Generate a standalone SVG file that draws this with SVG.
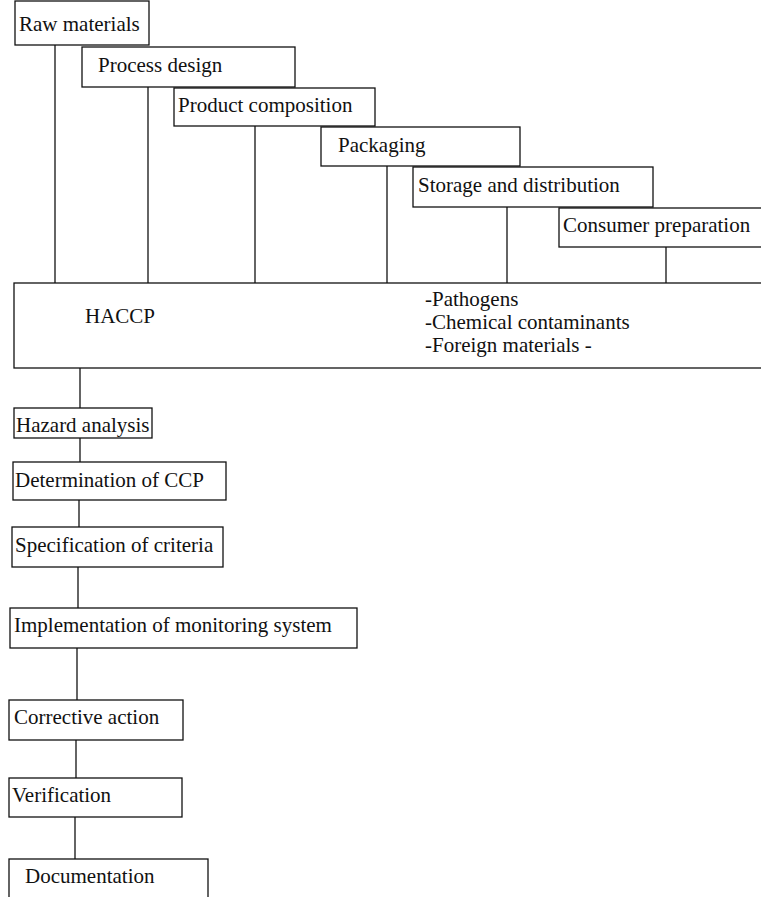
<svg xmlns="http://www.w3.org/2000/svg" width="761" height="897" viewBox="0 0 761 897">
<style>
  .box { fill: #fff; stroke: #111; stroke-width: 1.3; }
  .t { font-size: 21px; fill: #111; }
  .c { stroke: #111; stroke-width: 1.3; fill: none; }
</style>
<rect width="761" height="897" fill="#fff"/>
<g id="connectors">
  <line class="c" x1="55" y1="45" x2="55" y2="283"/>
  <line class="c" x1="148" y1="87" x2="148" y2="283"/>
  <line class="c" x1="255" y1="126" x2="255" y2="283"/>
  <line class="c" x1="387" y1="166" x2="387" y2="283"/>
  <line class="c" x1="507" y1="207" x2="507" y2="283"/>
  <line class="c" x1="666" y1="247" x2="666" y2="283"/>
  <line class="c" x1="80" y1="368" x2="80" y2="408"/>
  <line class="c" x1="80" y1="438" x2="80" y2="462"/>
  <line class="c" x1="79" y1="500" x2="79" y2="527"/>
  <line class="c" x1="78" y1="567" x2="78" y2="608"/>
  <line class="c" x1="77" y1="648" x2="77" y2="700"/>
  <line class="c" x1="76" y1="740" x2="76" y2="778"/>
  <line class="c" x1="75" y1="817" x2="75" y2="859"/>
</g>
<g font-family="'Liberation Serif', 'DejaVu Serif', serif">
<g id="raw-materials">
  <rect class="box" x="15" y="1" width="134" height="44"/>
  <text class="t" x="19" y="31">Raw materials</text>
</g>
<g id="process-design">
  <rect class="box" x="82" y="47" width="213" height="40"/>
  <text class="t" x="98" y="72">Process design</text>
</g>
<g id="product-composition">
  <rect class="box" x="174" y="88" width="201" height="38"/>
  <text class="t" x="178" y="112">Product composition</text>
</g>
<g id="packaging">
  <rect class="box" x="321" y="127" width="199" height="39"/>
  <text class="t" x="338" y="152">Packaging</text>
</g>
<g id="storage-distribution">
  <rect class="box" x="413" y="167" width="240" height="40"/>
  <text class="t" x="418" y="192">Storage and distribution</text>
</g>
<g id="consumer-preparation">
  <rect class="box" x="559" y="208" width="210" height="39"/>
  <text class="t" x="563" y="232">Consumer preparation</text>
</g>
<g id="haccp">
  <rect class="box" x="14" y="283" width="760" height="85"/>
  <text class="t" x="85" y="323" font-size="19">HACCP</text>
  <text class="t" x="425" y="306" font-size="20">-Pathogens</text>
  <text class="t" x="425" y="329" font-size="20">-Chemical contaminants</text>
  <text class="t" x="425" y="352" font-size="20">-Foreign materials  -</text>
</g>
<g id="hazard-analysis">
  <rect class="box" x="14" y="408" width="138" height="30"/>
  <text class="t" x="16" y="432">Hazard analysis</text>
</g>
<g id="determination-ccp">
  <rect class="box" x="13" y="462" width="213" height="38"/>
  <text class="t" x="15" y="487">Determination of CCP</text>
</g>
<g id="specification-criteria">
  <rect class="box" x="12" y="527" width="211" height="40"/>
  <text class="t" x="15" y="552">Specification of criteria</text>
</g>
<g id="implementation-monitoring">
  <rect class="box" x="10" y="608" width="347" height="40"/>
  <text class="t" x="14" y="632">Implementation of monitoring system</text>
</g>
<g id="corrective-action">
  <rect class="box" x="9" y="700" width="174" height="40"/>
  <text class="t" x="14" y="724">Corrective action</text>
</g>
<g id="verification">
  <rect class="box" x="9" y="778" width="173" height="39"/>
  <text class="t" x="12" y="802">Verification</text>
</g>
<g id="documentation">
  <rect class="box" x="9" y="859" width="199" height="60"/>
  <text class="t" x="25" y="883">Documentation</text>
</g>
</g>
</svg>
